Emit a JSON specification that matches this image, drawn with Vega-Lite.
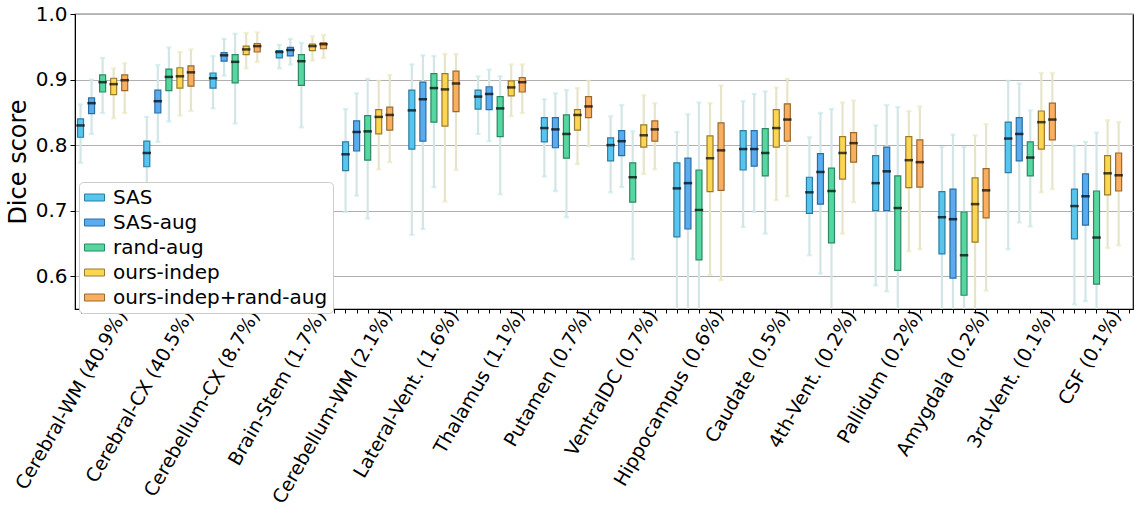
{
  "$schema": "https://vega.github.io/schema/vega-lite/v6.json",
  "width": 1058,
  "height": 295,
  "autosize": {"type": "none"},
  "padding": {"left": 75, "top": 14, "right": 11, "bottom": 204},
  "config": {
    "font": "DejaVu Sans",
    "view": {"stroke": "#000000", "strokeWidth": 1.2},
    "axis": {"labelColor": "#000000", "titleColor": "#000000", "domainColor": "#000000", "tickColor": "#000000"}
  },
  "data": {"values": [
    {"region": "Cerebral-WM (40.9%)", "method": "SAS", "lo": 0.773, "q1": 0.812, "med": 0.830, "q3": 0.840, "hi": 0.862},
    {"region": "Cerebral-WM (40.9%)", "method": "SAS-aug", "lo": 0.817, "q1": 0.848, "med": 0.864, "q3": 0.872, "hi": 0.900},
    {"region": "Cerebral-WM (40.9%)", "method": "rand-aug", "lo": 0.849, "q1": 0.881, "med": 0.896, "q3": 0.907, "hi": 0.933},
    {"region": "Cerebral-WM (40.9%)", "method": "ours-indep", "lo": 0.841, "q1": 0.877, "med": 0.893, "q3": 0.902, "hi": 0.917},
    {"region": "Cerebral-WM (40.9%)", "method": "ours-indep+rand-aug", "lo": 0.849, "q1": 0.883, "med": 0.899, "q3": 0.907, "hi": 0.925},

    {"region": "Cerebral-CX (40.5%)", "method": "SAS", "lo": 0.700, "q1": 0.767, "med": 0.788, "q3": 0.806, "hi": 0.843},
    {"region": "Cerebral-CX (40.5%)", "method": "SAS-aug", "lo": 0.805, "q1": 0.849, "med": 0.867, "q3": 0.884, "hi": 0.922},
    {"region": "Cerebral-CX (40.5%)", "method": "rand-aug", "lo": 0.836, "q1": 0.883, "med": 0.904, "q3": 0.916, "hi": 0.949},
    {"region": "Cerebral-CX (40.5%)", "method": "ours-indep", "lo": 0.845, "q1": 0.887, "med": 0.905, "q3": 0.918, "hi": 0.942},
    {"region": "Cerebral-CX (40.5%)", "method": "ours-indep+rand-aug", "lo": 0.852, "q1": 0.890, "med": 0.911, "q3": 0.921, "hi": 0.946},

    {"region": "Cerebellum-CX (8.7%)", "method": "SAS", "lo": 0.856, "q1": 0.887, "med": 0.902, "q3": 0.910, "hi": 0.936},
    {"region": "Cerebellum-CX (8.7%)", "method": "SAS-aug", "lo": 0.906, "q1": 0.928, "med": 0.937, "q3": 0.941, "hi": 0.962},
    {"region": "Cerebellum-CX (8.7%)", "method": "rand-aug", "lo": 0.833, "q1": 0.895, "med": 0.927, "q3": 0.938, "hi": 0.970},
    {"region": "Cerebellum-CX (8.7%)", "method": "ours-indep", "lo": 0.917, "q1": 0.938, "med": 0.946, "q3": 0.951, "hi": 0.971},
    {"region": "Cerebellum-CX (8.7%)", "method": "ours-indep+rand-aug", "lo": 0.927, "q1": 0.942, "med": 0.951, "q3": 0.955, "hi": 0.972},

    {"region": "Brain-Stem (1.7%)", "method": "SAS", "lo": 0.917, "q1": 0.933, "med": 0.942, "q3": 0.944, "hi": 0.953},
    {"region": "Brain-Stem (1.7%)", "method": "SAS-aug", "lo": 0.923, "q1": 0.936, "med": 0.945, "q3": 0.949, "hi": 0.962},
    {"region": "Brain-Stem (1.7%)", "method": "rand-aug", "lo": 0.827, "q1": 0.891, "med": 0.928, "q3": 0.938, "hi": 0.956},
    {"region": "Brain-Stem (1.7%)", "method": "ours-indep", "lo": 0.929, "q1": 0.944, "med": 0.951, "q3": 0.954, "hi": 0.966},
    {"region": "Brain-Stem (1.7%)", "method": "ours-indep+rand-aug", "lo": 0.933, "q1": 0.947, "med": 0.954, "q3": 0.956, "hi": 0.968},

    {"region": "Cerebellum-WM (2.1%)", "method": "SAS", "lo": 0.698, "q1": 0.761, "med": 0.786, "q3": 0.805, "hi": 0.855},
    {"region": "Cerebellum-WM (2.1%)", "method": "SAS-aug", "lo": 0.723, "q1": 0.791, "med": 0.820, "q3": 0.837, "hi": 0.879},
    {"region": "Cerebellum-WM (2.1%)", "method": "rand-aug", "lo": 0.688, "q1": 0.777, "med": 0.821, "q3": 0.845, "hi": 0.901},
    {"region": "Cerebellum-WM (2.1%)", "method": "ours-indep", "lo": 0.763, "q1": 0.817, "med": 0.843, "q3": 0.854, "hi": 0.898},
    {"region": "Cerebellum-WM (2.1%)", "method": "ours-indep+rand-aug", "lo": 0.774, "q1": 0.823, "med": 0.846, "q3": 0.858, "hi": 0.907},

    {"region": "Lateral-Vent. (1.6%)", "method": "SAS", "lo": 0.663, "q1": 0.794, "med": 0.853, "q3": 0.884, "hi": 0.923},
    {"region": "Lateral-Vent. (1.6%)", "method": "SAS-aug", "lo": 0.672, "q1": 0.806, "med": 0.870, "q3": 0.896, "hi": 0.937},
    {"region": "Lateral-Vent. (1.6%)", "method": "rand-aug", "lo": 0.736, "q1": 0.835, "med": 0.887, "q3": 0.909, "hi": 0.936},
    {"region": "Lateral-Vent. (1.6%)", "method": "ours-indep", "lo": 0.714, "q1": 0.829, "med": 0.885, "q3": 0.909, "hi": 0.939},
    {"region": "Lateral-Vent. (1.6%)", "method": "ours-indep+rand-aug", "lo": 0.762, "q1": 0.851, "med": 0.894, "q3": 0.913, "hi": 0.939},

    {"region": "Thalamus (1.1%)", "method": "SAS", "lo": 0.817, "q1": 0.855, "med": 0.874, "q3": 0.884, "hi": 0.905},
    {"region": "Thalamus (1.1%)", "method": "SAS-aug", "lo": 0.806, "q1": 0.854, "med": 0.878, "q3": 0.889, "hi": 0.915},
    {"region": "Thalamus (1.1%)", "method": "rand-aug", "lo": 0.725, "q1": 0.813, "med": 0.856, "q3": 0.874, "hi": 0.905},
    {"region": "Thalamus (1.1%)", "method": "ours-indep", "lo": 0.844, "q1": 0.875, "med": 0.888, "q3": 0.898, "hi": 0.923},
    {"region": "Thalamus (1.1%)", "method": "ours-indep+rand-aug", "lo": 0.849, "q1": 0.881, "med": 0.896, "q3": 0.903, "hi": 0.923},

    {"region": "Putamen (0.7%)", "method": "SAS", "lo": 0.752, "q1": 0.805, "med": 0.826, "q3": 0.842, "hi": 0.870},
    {"region": "Putamen (0.7%)", "method": "SAS-aug", "lo": 0.730, "q1": 0.796, "med": 0.824, "q3": 0.842, "hi": 0.879},
    {"region": "Putamen (0.7%)", "method": "rand-aug", "lo": 0.690, "q1": 0.780, "med": 0.817, "q3": 0.846, "hi": 0.884},
    {"region": "Putamen (0.7%)", "method": "ours-indep", "lo": 0.771, "q1": 0.823, "med": 0.846, "q3": 0.854, "hi": 0.887},
    {"region": "Putamen (0.7%)", "method": "ours-indep+rand-aug", "lo": 0.798, "q1": 0.842, "med": 0.859, "q3": 0.874, "hi": 0.898},

    {"region": "VentralDC (0.7%)", "method": "SAS", "lo": 0.728, "q1": 0.776, "med": 0.800, "q3": 0.811, "hi": 0.844},
    {"region": "VentralDC (0.7%)", "method": "SAS-aug", "lo": 0.736, "q1": 0.784, "med": 0.806, "q3": 0.822, "hi": 0.861},
    {"region": "VentralDC (0.7%)", "method": "rand-aug", "lo": 0.626, "q1": 0.713, "med": 0.751, "q3": 0.773, "hi": 0.821},
    {"region": "VentralDC (0.7%)", "method": "ours-indep", "lo": 0.756, "q1": 0.797, "med": 0.815, "q3": 0.831, "hi": 0.876},
    {"region": "VentralDC (0.7%)", "method": "ours-indep+rand-aug", "lo": 0.763, "q1": 0.806, "med": 0.824, "q3": 0.837, "hi": 0.864},

    {"region": "Hippocampus (0.6%)", "method": "SAS", "lo": 0.52, "q1": 0.660, "med": 0.734, "q3": 0.773, "hi": 0.820},
    {"region": "Hippocampus (0.6%)", "method": "SAS-aug", "lo": 0.52, "q1": 0.672, "med": 0.742, "q3": 0.780, "hi": 0.847},
    {"region": "Hippocampus (0.6%)", "method": "rand-aug", "lo": 0.52, "q1": 0.625, "med": 0.701, "q3": 0.762, "hi": 0.865},
    {"region": "Hippocampus (0.6%)", "method": "ours-indep", "lo": 0.602, "q1": 0.729, "med": 0.780, "q3": 0.814, "hi": 0.864},
    {"region": "Hippocampus (0.6%)", "method": "ours-indep+rand-aug", "lo": 0.594, "q1": 0.731, "med": 0.792, "q3": 0.834, "hi": 0.891},

    {"region": "Caudate (0.5%)", "method": "SAS", "lo": 0.675, "q1": 0.762, "med": 0.794, "q3": 0.822, "hi": 0.867},
    {"region": "Caudate (0.5%)", "method": "SAS-aug", "lo": 0.698, "q1": 0.768, "med": 0.794, "q3": 0.822, "hi": 0.878},
    {"region": "Caudate (0.5%)", "method": "rand-aug", "lo": 0.665, "q1": 0.753, "med": 0.788, "q3": 0.825, "hi": 0.882},
    {"region": "Caudate (0.5%)", "method": "ours-indep", "lo": 0.716, "q1": 0.797, "med": 0.826, "q3": 0.854, "hi": 0.888},
    {"region": "Caudate (0.5%)", "method": "ours-indep+rand-aug", "lo": 0.722, "q1": 0.806, "med": 0.839, "q3": 0.863, "hi": 0.901},

    {"region": "4th-Vent. (0.2%)", "method": "SAS", "lo": 0.632, "q1": 0.696, "med": 0.728, "q3": 0.751, "hi": 0.812},
    {"region": "4th-Vent. (0.2%)", "method": "SAS-aug", "lo": 0.604, "q1": 0.710, "med": 0.759, "q3": 0.787, "hi": 0.849},
    {"region": "4th-Vent. (0.2%)", "method": "rand-aug", "lo": 0.52, "q1": 0.651, "med": 0.730, "q3": 0.765, "hi": 0.855},
    {"region": "4th-Vent. (0.2%)", "method": "ours-indep", "lo": 0.665, "q1": 0.748, "med": 0.788, "q3": 0.813, "hi": 0.865},
    {"region": "4th-Vent. (0.2%)", "method": "ours-indep+rand-aug", "lo": 0.713, "q1": 0.774, "med": 0.803, "q3": 0.819, "hi": 0.868},

    {"region": "Pallidum (0.2%)", "method": "SAS", "lo": 0.586, "q1": 0.700, "med": 0.742, "q3": 0.784, "hi": 0.830},
    {"region": "Pallidum (0.2%)", "method": "SAS-aug", "lo": 0.577, "q1": 0.700, "med": 0.760, "q3": 0.797, "hi": 0.861},
    {"region": "Pallidum (0.2%)", "method": "rand-aug", "lo": 0.52, "q1": 0.609, "med": 0.704, "q3": 0.753, "hi": 0.858},
    {"region": "Pallidum (0.2%)", "method": "ours-indep", "lo": 0.638, "q1": 0.735, "med": 0.777, "q3": 0.813, "hi": 0.852},
    {"region": "Pallidum (0.2%)", "method": "ours-indep+rand-aug", "lo": 0.641, "q1": 0.736, "med": 0.774, "q3": 0.808, "hi": 0.859},

    {"region": "Amygdala (0.2%)", "method": "SAS", "lo": 0.52, "q1": 0.634, "med": 0.690, "q3": 0.729, "hi": 0.797},
    {"region": "Amygdala (0.2%)", "method": "SAS-aug", "lo": 0.52, "q1": 0.597, "med": 0.687, "q3": 0.733, "hi": 0.816},
    {"region": "Amygdala (0.2%)", "method": "rand-aug", "lo": 0.52, "q1": 0.571, "med": 0.632, "q3": 0.698, "hi": 0.797},
    {"region": "Amygdala (0.2%)", "method": "ours-indep", "lo": 0.52, "q1": 0.652, "med": 0.710, "q3": 0.750, "hi": 0.815},
    {"region": "Amygdala (0.2%)", "method": "ours-indep+rand-aug", "lo": 0.578, "q1": 0.689, "med": 0.731, "q3": 0.764, "hi": 0.832},

    {"region": "3rd-Vent. (0.1%)", "method": "SAS", "lo": 0.641, "q1": 0.758, "med": 0.810, "q3": 0.835, "hi": 0.898},
    {"region": "3rd-Vent. (0.1%)", "method": "SAS-aug", "lo": 0.682, "q1": 0.776, "med": 0.817, "q3": 0.842, "hi": 0.894},
    {"region": "3rd-Vent. (0.1%)", "method": "rand-aug", "lo": 0.676, "q1": 0.753, "med": 0.781, "q3": 0.805, "hi": 0.853},
    {"region": "3rd-Vent. (0.1%)", "method": "ours-indep", "lo": 0.728, "q1": 0.794, "med": 0.835, "q3": 0.852, "hi": 0.910},
    {"region": "3rd-Vent. (0.1%)", "method": "ours-indep+rand-aug", "lo": 0.733, "q1": 0.808, "med": 0.839, "q3": 0.864, "hi": 0.910},

    {"region": "CSF (0.1%)", "method": "SAS", "lo": 0.557, "q1": 0.657, "med": 0.707, "q3": 0.733, "hi": 0.799},
    {"region": "CSF (0.1%)", "method": "SAS-aug", "lo": 0.562, "q1": 0.678, "med": 0.722, "q3": 0.756, "hi": 0.805},
    {"region": "CSF (0.1%)", "method": "rand-aug", "lo": 0.52, "q1": 0.588, "med": 0.659, "q3": 0.730, "hi": 0.819},
    {"region": "CSF (0.1%)", "method": "ours-indep", "lo": 0.643, "q1": 0.724, "med": 0.757, "q3": 0.784, "hi": 0.838},
    {"region": "CSF (0.1%)", "method": "ours-indep+rand-aug", "lo": 0.647, "q1": 0.730, "med": 0.754, "q3": 0.788, "hi": 0.835}
  ]},
  "layer": [
    {
      "encoding": {
        "x": {
          "field": "region", "type": "nominal", "sort": null,
          "scale": {"paddingInner": 0.16667, "paddingOuter": 0.0667, "align": 0},
          "axis": {
            "title": null, "ticks": false, "domain": false,
            "labelAngle": -60, "labelAlign": "right", "labelBaseline": "top",
            "labelFontSize": 19, "labelPadding": -2, "labelOffset": 12,
            "labelLimit": 0
          }
        },
        "xOffset": {
          "field": "method", "type": "nominal",
          "sort": ["SAS", "SAS-aug", "rand-aug", "ours-indep", "ours-indep+rand-aug"],
          "scale": {"paddingInner": 0, "paddingOuter": 0}
        }
      },
      "layer": [
        {
          "mark": {"type": "rule", "strokeWidth": 2.2, "clip": true},
          "encoding": {
            "y": {
              "field": "lo", "type": "quantitative",
              "scale": {"domain": [0.55, 1.0], "nice": false, "zero": false},
              "axis": {
                "title": "Dice score", "titleFontSize": 24, "titleFontWeight": "normal", "titlePadding": 5,
                "values": [0.6, 0.7, 0.8, 0.9, 1.0], "format": ".1f",
                "labelFontSize": 20, "labelPadding": 3, "tickSize": 5,
                "grid": true, "gridColor": "#b0b0b0", "gridWidth": 1.2
              }
            },
            "y2": {"field": "hi"},
            "color": {
              "condition": {"test": "indexof(datum.method, 'ours') === 0", "value": "#e6e5cc"},
              "value": "#d4e5e5"
            }
          }
        },
        {
          "mark": {"type": "tick", "orient": "horizontal", "size": 5, "thickness": 2.2, "clip": true},
          "encoding": {
            "y": {"field": "hi", "type": "quantitative"},
            "color": {
              "condition": {"test": "indexof(datum.method, 'ours') === 0", "value": "#ece9c0"},
              "value": "#c6eaee"
            }
          }
        },
        {
          "mark": {"type": "tick", "orient": "horizontal", "size": 5, "thickness": 2.2, "clip": true},
          "encoding": {
            "y": {"field": "lo", "type": "quantitative"},
            "color": {
              "condition": {"test": "indexof(datum.method, 'ours') === 0", "value": "#ece9c0"},
              "value": "#c6eaee"
            }
          }
        },
        {
          "mark": {"type": "bar", "width": 6, "strokeWidth": 1.2, "clip": true},
          "encoding": {
            "y": {"field": "q1", "type": "quantitative"},
            "y2": {"field": "q3"},
            "fill": {
              "field": "method", "type": "nominal",
              "sort": ["SAS", "SAS-aug", "rand-aug", "ours-indep", "ours-indep+rand-aug"],
              "scale": {
                "domain": ["SAS", "SAS-aug", "rand-aug", "ours-indep", "ours-indep+rand-aug"],
                "range": ["#58c5ef", "#5aacef", "#56d6a0", "#fcd553", "#f9af5f"]
              },
              "legend": {
                "title": null, "orient": "none", "legendX": 4, "legendY": 168,
                "symbolType": "M-1,-0.35H1V0.35H-1Z", "symbolSize": 400,
                "symbolStrokeColor": "#000000", "symbolStrokeWidth": 1,
                "labelFontSize": 20, "labelOffset": 8, "rowPadding": 4,
                "padding": 5, "fillColor": "#ffffff", "strokeColor": "#cccccc",
                "cornerRadius": 4, "labelColor": "#000000", "labelLimit": 0
              }
            },
            "stroke": {
              "field": "method", "type": "nominal",
              "scale": {
                "domain": ["SAS", "SAS-aug", "rand-aug", "ours-indep", "ours-indep+rand-aug"],
                "range": ["#2b7ea3", "#2b6ea3", "#2b8a63", "#987c2e", "#996a30"]
              },
              "legend": null
            }
          }
        },
        {
          "mark": {"type": "tick", "orient": "horizontal", "size": 8.5, "thickness": 2.5, "color": "#000000", "clip": true},
          "encoding": {
            "y": {"field": "med", "type": "quantitative"}
          }
        }
      ]
    },
    {
      "mark": {"type": "rule", "opacity": 0},
      "encoding": {
        "x": {
          "datum": 0, "type": "quantitative",
          "scale": {"domain": [-0.5, 95.33], "nice": false, "zero": false},
          "axis": {"orient": "bottom", "tickCount": 96, "labels": false, "domain": false, "grid": false, "title": null, "tickSize": 4, "tickWidth": 1}
        }
      }
    }
  ],
  "resolve": {"scale": {"x": "independent"}, "axis": {"x": "independent"}}
}
